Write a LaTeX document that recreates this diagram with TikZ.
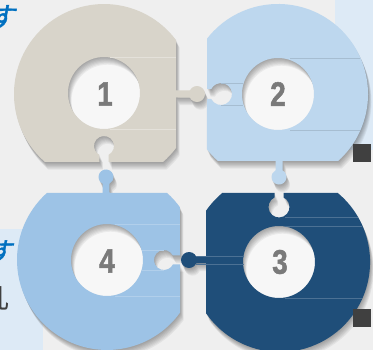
\documentclass[tikz,border=0pt]{standalone}
\usepackage{fontspec}
\setmainfont{Liberation Sans}
\newfontfamily\numfont{Liberation Sans}[BoldFeatures={FakeBold=1.6}]
\newfontfamily\cjkbi{Noto Sans CJK JP}[FakeSlant=0.2, FakeBold=1.5]
\newfontfamily\cjkplain{Noto Sans CJK JP}
\definecolor{bgc}{HTML}{EFEFEF}
\definecolor{holec}{HTML}{F7F7F7}
\definecolor{panelc}{HTML}{DDEAF6}
\definecolor{pA}{HTML}{D8D4CA}
\definecolor{pB}{HTML}{BDD7EE}
\definecolor{pC}{HTML}{1F4E79}
\definecolor{pD}{HTML}{9DC3E6}
\definecolor{numc}{HTML}{7A7A7A}
\definecolor{sqc}{HTML}{404040}
\definecolor{txtblue}{HTML}{0070C0}
\tikzset{
  num/.style={text=numc, font=\numfont\bfseries\fontsize{34}{34}\selectfont, xscale=0.82, inner sep=0pt},
  sq/.style={fill=sqc, draw=none},
  shadowlayer/.style={fill=black, opacity=0.05, even odd rule},
  piecefill/.style={even odd rule, draw=none},
  gloss/.style={line width=0.6pt}
}
\def\pieceA{(176,40) -- (176,90.5) -- (189.8,90.5) arc[start angle=-154, end angle=154, radius=8] -- (176,97.5) -- (176,148) arc[start angle=36.87, end angle=49.05, radius=90] -- (108.5,162) -- (108.5,154.9) arc[start angle=63.2, end angle=-243.2, radius=10] -- (99.5,162) -- (45,162) arc[start angle=130.95, end angle=323.13, radius=90] -- cycle (104,93) circle (36)}
\def\pieceB{(207,38.7) arc[start angle=-142.1, end angle=48.1, radius=90] -- (282.5,161) -- (282.5,170.4) arc[start angle=-62.2, end angle=242.2, radius=7.5] -- (275.5,161) -- (217.9,161) arc[start angle=131.9, end angle=142.1, radius=90] -- (207,99) -- (211.2,99) arc[start angle=153, end angle=-153, radius=11] -- (207,89) -- cycle (278,94) circle (36)}
\def\pieceC{(206,210.8) arc[start angle=214.7, end angle=230.1, radius=90] -- (274.5,193) -- (274.5,197.5) arc[start angle=244.6, end angle=-64.6, radius=10.5] -- (283.5,193) -- (337.8,193) arc[start angle=-50.1, end angle=145.3, radius=90] -- (206,263.5) -- (196.2,263.5) arc[start angle=25.9, end angle=334.1, radius=8] -- (206,256.5) -- cycle (279,262) circle (36)}
\def\pieceD{(46.9,193) -- (102.5,193) -- (102.5,183.6) arc[start angle=117.8, end angle=422.2, radius=7.5] -- (109.5,193) -- (167.1,193) arc[start angle=-48.1, end angle=-35.8, radius=90] -- (180,255.5) -- (172.9,255.5) arc[start angle=-26.7, end angle=-333.3, radius=10] -- (180,264.5) -- (180,312.6) arc[start angle=35.8, end angle=228.1, radius=90] -- cycle (107,260) circle (36)}
\begin{document}
\begin{tikzpicture}[x=1pt,y=-1pt]
\useasboundingbox (0,0) rectangle (373,350);
\clip (0,0) rectangle (373,350);
% background and panels
\fill[bgc] (0,0) rectangle (373,350);
\fill[panelc] (335,0) rectangle (373,150);
\fill[panelc] (0,229) rectangle (43,350);
% lighter hole interiors
\fill[holec] (104,93) circle (36) (278,94) circle (36) (279,262) circle (36) (107,260) circle (36);
% clipped slide texts
\node[text=txtblue, font=\cjkbi\fontsize{28}{28}\selectfont, inner sep=0pt] (tA) at (1,17) {す};
\node[text=txtblue, font=\cjkbi\fontsize{25}{25}\selectfont, inner sep=0pt] (tB) at (0,251) {す};
\node[text=black!75, font=\cjkplain\fontsize{28}{28}\selectfont, inner sep=0pt] (tC) at (-4,299) {几};
% shadows
\foreach \k in {1,...,7} {
  \fill[shadowlayer, shift={(0.5*\k,1.1*\k)}] \pieceA;
  \fill[shadowlayer, shift={(0.5*\k,1.1*\k)}] \pieceB;
  \fill[shadowlayer, shift={(0.5*\k,1.1*\k)}] \pieceC;
  \fill[shadowlayer, shift={(0.5*\k,1.1*\k)}] \pieceD;
}
% pieces
\fill[piecefill, pA] \pieceA;
\fill[piecefill, pB] \pieceB;
\fill[piecefill, pC] \pieceC;
\fill[piecefill, pD] \pieceD;
% faint gloss lines
\draw[gloss, pA!70!white] (110,57) -- (176,57) (110,129) -- (176,129);
\draw[gloss, pB!88!black] (290,58) -- (360,58) (290,130) -- (360,130) (221,83) -- (243,83) (221,105) -- (243,105);
\draw[gloss, pC!80!white] (285,217) -- (358,217) (285,226) -- (362,226) (285,298) -- (362,298) (196,256) -- (244,256) (196,264) -- (244,264);
\draw[gloss, pD!80!white] (115,224) -- (180,224) (115,296) -- (180,296) (142,250) -- (164,250) (142,270) -- (164,270);
% numbers
\node[num] (n1) at (105,94) {1};
\node[num] (n2) at (278,94) {2};
\node[num] (n3) at (280,262) {3};
\node[num] (n4) at (107,261) {4};
% dark squares
\fill[sq] (353,144) rectangle (371,162);
\fill[sq] (353,309) rectangle (371,327);
\end{tikzpicture}
\end{document}
